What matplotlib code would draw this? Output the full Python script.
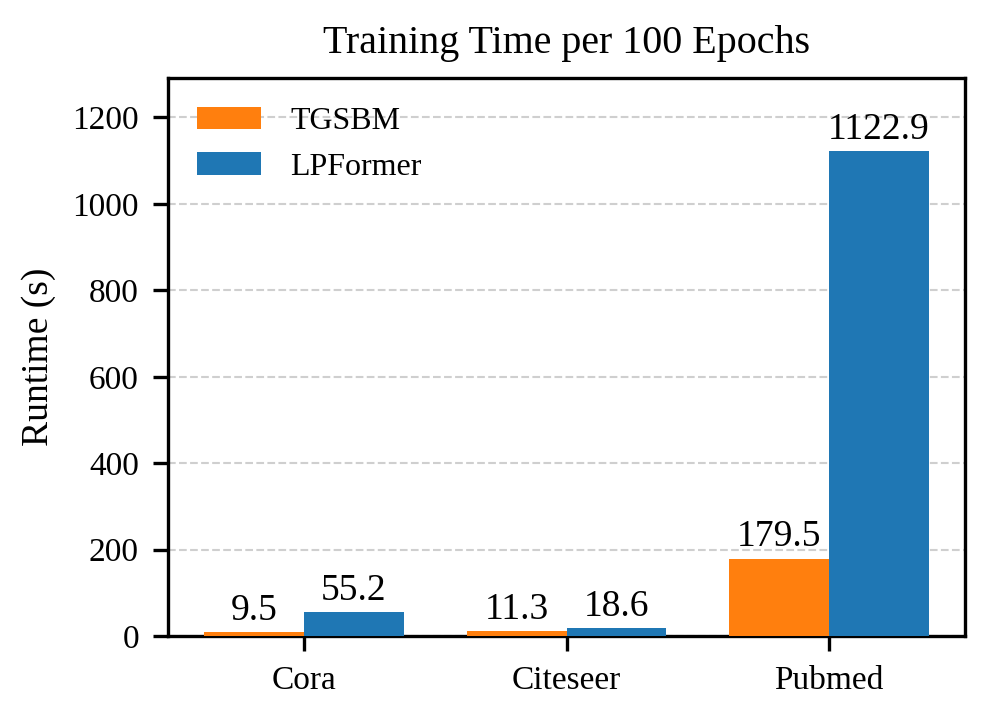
import numpy as np
import matplotlib.pyplot as plt

plt.rcParams['font.family'] = ['Liberation Serif', 'DejaVu Serif']

datasets = ['Cora', 'Citeseer', 'Pubmed']
tgsbm = [9.5, 11.3, 179.5]
lpformer = [55.2, 18.6, 1122.9]

x = np.arange(len(datasets))
width = 0.38

fig, ax = plt.subplots(figsize=(995 / 300, 722 / 300), dpi=300)
fig.subplots_adjust(left=0.169, right=0.970, top=0.892, bottom=0.119)

b1 = ax.bar(x - width / 2, tgsbm, width, label='TGSBM', color='#ff7f0e', zorder=3)
b2 = ax.bar(x + width / 2, lpformer, width, label='LPFormer', color='#1f77b4', zorder=3)

ax.bar_label(b1, fmt='%.1f', padding=1, fontsize=9)
ax.bar_label(b2, fmt='%.1f', padding=1, fontsize=9)

ax.set_xticks(x)
ax.set_xticklabels(datasets, fontsize=8)
ax.tick_params(axis='y', labelsize=8)
ax.set_ylabel('Runtime (s)', fontsize=9)
ax.set_title('Training Time per 100 Epochs', fontsize=9.6)
ax.set_ylim(0, max(lpformer) * 1.15)
ax.grid(axis='y', linestyle='--', linewidth=0.5, alpha=0.6, zorder=0)
ax.legend(loc='upper left', frameon=False, fontsize=7.7, handletextpad=0.9)

plt.savefig('out.png', dpi=300)
